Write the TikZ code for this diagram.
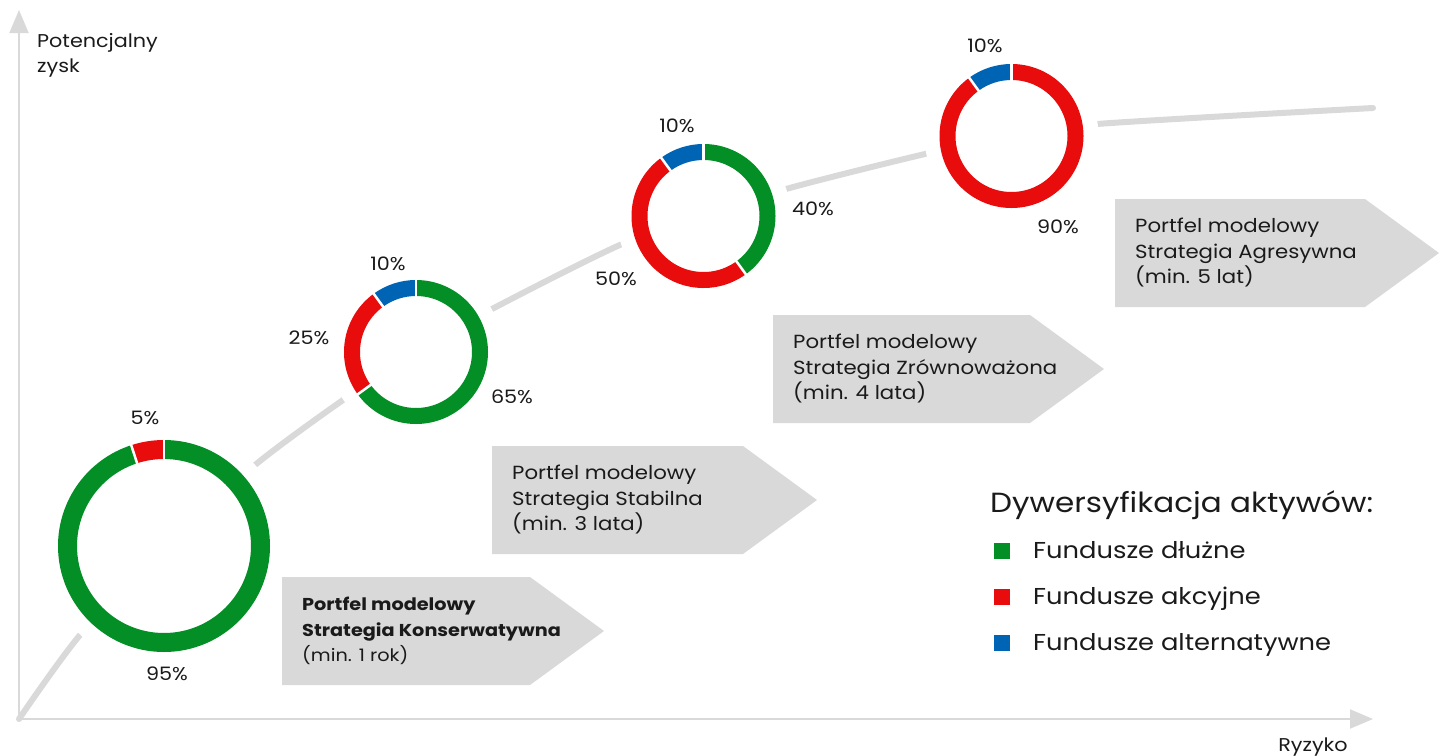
\documentclass[tikz,border=0pt]{standalone}
\usepackage{fontspec}
\setmainfont{Poppins}[FakeStretch=1.12]
\usepackage{tikz}
\usetikzlibrary{arrows.meta}
\definecolor{fundgreen}{HTML}{038F26}
\definecolor{fundred}{HTML}{E80C0C}
\definecolor{fundblue}{HTML}{0064B4}
\definecolor{chartgray}{HTML}{D9D9D9}
\definecolor{inkblack}{HTML}{1A1A1A}
\newcommand\boldline[1]{{\fontsize{17.2}{25}\selectfont\textbf{#1}}}
\newcommand\smallline[1]{{\fontsize{17.2}{25}\selectfont #1}}
\tikzset{
  axis/.style={draw=chartgray, line width=2pt, -{Triangle[width=19pt,length=23pt]}},
  trend/.style={draw=chartgray, line width=6pt, line cap=round},
  pct/.style={font=\fontsize{18.5}{22}\selectfont, text=inkblack, inner sep=0pt},
  boxtext/.style={anchor=west, align=left, inner sep=0pt, text=inkblack, font=\fontsize{19}{25.5}\selectfont},
  legtext/.style={anchor=base west, inner sep=0pt, text=inkblack, font=\fontsize{23}{28}\selectfont},
  legbox/.style={minimum size=16pt, inner sep=0pt},
}

\begin{document}
\begin{tikzpicture}[x=1pt,y=-1pt]
    \useasboundingbox (0,0) rectangle (1443,755);
    % Axes
    \coordinate (o) at (19,719);
    \coordinate (ytip) at (19,10);
    \coordinate (xtip) at (1373,719);
    \draw[axis] (o) -- (ytip);
    \draw[axis] (o) -- (xtip);
    \node[anchor=west, align=left, inner sep=0pt, text=inkblack, font=\fontsize{18.5}{25}\selectfont] (ylab) at (37,55) {Potencjalny\\zysk};
    \node[anchor=base, inner sep=0pt, text=inkblack, font=\fontsize{18.5}{22}\selectfont] (xlab) at (1313,751) {Ryzyko};

    % Trend line, hidden round the rings
    \draw[trend] plot[smooth] coordinates {(19,719) (80,635) (164,546) (255,465) (343,400) (416,352) (492,309) (622,244) (703.5,216) (786,189) (925,154) (1011.5,136) (1097,124) (1373,108)};
    \foreach \x/\y/\name/\gap in {164/546/d1/122, 416/352/d2/87, 703.5/216/d3/87, 1011.5/136/d4/87}{
        \coordinate (\name) at (\x,\y);
        \fill[white] (\x,\y) circle[radius=\gap pt];
    }

    % Rings
    \foreach \ctr/\rad/\lw/\angA/\angB/\col in {d1/96.5/19/90/-252/fundgreen, d1/96.5/19/108/90/fundred,
        d2/64/16/90/-144/fundgreen, d2/64/16/216/126/fundred, d2/64/16/126/90/fundblue,
        d3/64/16/90/-54/fundgreen, d3/64/16/306/126/fundred, d3/64/16/126/90/fundblue,
        d4/64/16/90/-234/fundred, d4/64/16/126/90/fundblue}
        \draw[draw=\col, line width=\lw pt] (\ctr) ++(\angA:\rad pt) arc[start angle=\angA, end angle=\angB, radius=\rad pt];
    \foreach \ctr/\ri/\len/\ang in {d1/85/23/90, d1/85/23/108,
        d2/54/20/90, d2/54/20/-144, d2/54/20/126,
        d3/54/20/90, d3/54/20/-54, d3/54/20/126,
        d4/54/20/90, d4/54/20/126}
        \draw[white, line width=2.5pt] (\ctr) ++(\ang:\ri pt) -- ++(\ang:\len pt);

    % Shares
    \foreach \pos/\name/\txt in {{(145,418)/p1r/5\%}, {(167,674)/p1g/95\%},
        {(388,264)/p2b/10\%}, {(309,338)/p2r/25\%}, {(512,397)/p2g/65\%},
        {(677,126)/p3b/10\%}, {(616,279)/p3r/50\%}, {(813,209)/p3g/40\%},
        {(985,46)/p4b/10\%}, {(1058,227)/p4r/90\%}}
        \node[pct] (\name) at \pos {\txt};

    % Strategy boxes
    \foreach \l/\t/\w/\name/\txt in {{282/577/248/box1/{\boldline{Portfel modelowy}\\\boldline{Strategia Konserwatywna}\\\smallline{(min. 1 rok)}}},
        {492/446/251/box2/{Portfel modelowy\\Strategia Stabilna\\(min. 3 lata)}},
        {773/315/257/box3/{Portfel modelowy\\Strategia Zrównoważona\\(min. 4 lata)}},
        {1115/199/250/box4/{Portfel modelowy\\Strategia Agresywna\\(min. 5 lat)}}}{
        \fill[chartgray] (\l,\t) -- ++(\w,0) -- ++(74,54) -- ++(-74,54) -- ++(-\w,0) -- cycle;
        \node[boxtext] (\name) at (\l+20,\t+54) {\txt};
    }

    % Legend
    \node[anchor=base west, inner sep=0pt, text=inkblack, font=\fontsize{27.7}{34}\selectfont] (legtitle) at (990,512) {Dywersyfikacja aktywów:};
    \foreach \y/\col/\name/\txt in {558/fundgreen/leg1/Fundusze dłużne, 604/fundred/leg2/Fundusze akcyjne, 650/fundblue/leg3/Fundusze alternatywne}{
        \node[legbox, fill=\col] (\name m) at (1002,\y-7) {};
        \node[legtext] (\name) at (1033,\y) {\txt};
    }
\end{tikzpicture}
\end{document}
